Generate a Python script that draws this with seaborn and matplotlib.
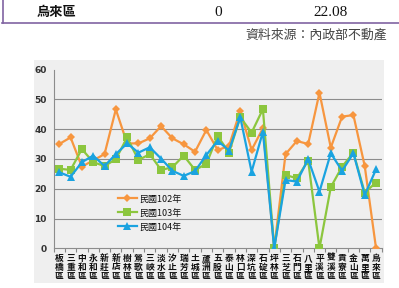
import matplotlib
matplotlib.use("Agg")
import matplotlib.pyplot as plt
from matplotlib.patches import Rectangle
from matplotlib.lines import Line2D
import seaborn as sns
import pandas as pd

districts = ["板橋區", "三重區", "中和區", "永和區", "新莊區", "新店區", "樹林區", "鶯歌區",
             "三峽區", "淡水區", "汐止區", "瑞芳區", "土城區", "蘆洲區", "五股區", "泰山區",
             "林口區", "深坑區", "石碇區", "坪林區", "三芝區", "石門區", "八里區", "平溪區",
             "雙溪區", "貢寮區", "金山區", "萬里區", "烏來區"]
y102 = [35.0, 37.2, 27.4, 29.5, 31.6, 46.6, 35.2, 35.2, 36.9, 41.0, 36.9, 34.9, 32.4, 39.7,
        33.0, 34.3, 46.2, 33.0, 40.3, 0.0, 31.6, 36.0, 35.0, 52.2, 33.8, 44.2, 44.7, 27.6, 0.0]
y103 = [26.7, 26.3, 33.3, 28.9, 27.6, 29.9, 37.2, 29.6, 31.6, 26.3, 27.2, 31.1, 26.3, 28.3,
        37.7, 32.1, 44.0, 38.8, 46.7, 0.0, 24.6, 23.5, 29.4, 0.0, 20.5, 27.4, 32.1, 18.7, 22.08]
y104 = [25.5, 24.0, 28.9, 31.1, 27.6, 31.6, 35.2, 32.1, 33.9, 30.1, 26.0, 24.3, 25.9, 31.3,
        36.1, 32.8, 44.0, 25.7, 39.1, 0.0, 22.9, 22.4, 29.9, 19.0, 31.9, 26.0, 31.9, 17.9, 26.5]
series_names = ["民國102年", "民國103年", "民國104年"]
yticks = [0, 10, 20, 30, 40, 50, 60]

colors = ["#F7963F", "#8CC63E", "#1AA3E0"]
markers = ["D", "s", "^"]
msizes = [4.2, 5.5, 5.5]

CJK = ["Noto Sans CJK TC", "DejaVu Sans"]
plt.rcParams["font.family"] = CJK

W, H = 399, 288
fig = plt.figure(figsize=(W / 100, H / 100), dpi=100)
fig.patch.set_facecolor("white")

# gray chart area
bg = Rectangle((34 / W, 1 - 283 / H), (384 - 34) / W, (283 - 60) / H,
               transform=fig.transFigure, facecolor="#efefef", edgecolor="none")
bg.set_zorder(-10)
fig.patches.append(bg)

# table fragment at top
fig.add_artist(Line2D([2 / W, 1], [1 - 23 / H] * 2, color="#8064A2", lw=1.2))
fig.add_artist(Line2D([2.5 / W] * 2, [1 - 23 / H, 1], color="#8064A2", lw=1.2))
fig.text(57 / W, 1 - 12 / H, "烏來區", ha="center", va="center", fontsize=9.5,
         fontweight="bold", family=CJK, color="#111")
fig.text(218 / W, 1 - 12 / H, "0", ha="center", va="center", fontsize=11,
         family=["Liberation Serif"], color="#111")
fig.text(330 / W, 1 - 12 / H, "22.08", ha="center", va="center", fontsize=11,
         family=["Liberation Serif"], color="#111")
fig.text(245 / W, 1 - 35 / H, "資料來源：內政部不動產", ha="left", va="center",
         fontsize=9.3, family=CJK, color="#444")

left = 53.6 / W
right = 381.7 / W
bottom = 1 - 248.3 / H
top = 1 - 69.5 / H
ax = fig.add_axes([left, bottom, right - left, top - bottom])
ax.set_facecolor("none")
ax.set_zorder(5)

frames = []
for name, vals in zip(series_names, [y102, y103, y104]):
    frames.append(pd.DataFrame({"district": districts, "value": vals, "year": name}))
df = pd.concat(frames, ignore_index=True)

for name, c, m, ms in zip(series_names, colors, markers, msizes):
    sub = df[df["year"] == name]
    sns.lineplot(data=sub, x="district", y="value", ax=ax, color=c, marker=m,
                 markersize=ms, markeredgewidth=0, linewidth=1.6, sort=False,
                 label=name, zorder=3)

ax.set_xlim(-0.5, len(districts) - 0.5)
ax.set_ylim(0, 60)
ax.set_yticks(yticks)
ax.set_yticklabels([str(v) for v in yticks], fontsize=6.5, fontweight="bold",
                   family=["DejaVu Sans"], color="#333")
ax.tick_params(axis="y", length=0, pad=5)
ax.set_xticks(range(len(districts)))
ax.set_xticklabels(["\n".join(d) for d in districts], fontsize=6.3, fontweight="bold",
                   linespacing=1.0, color="#111")
ax.tick_params(axis="x", which="major", length=0, pad=4)
ax.set_xticks([i - 0.5 for i in range(len(districts) + 1)], minor=True)
ax.tick_params(axis="x", which="minor", length=3, color="#888", width=0.8)
ax.set_xlabel("")
ax.set_ylabel("")

for v in yticks[1:-1]:
    ax.axhline(v, color="#8c8c8c", lw=0.8, zorder=1)
for s in ["top", "right"]:
    ax.spines[s].set_visible(False)
ax.spines["left"].set_color("#8c8c8c")
ax.spines["bottom"].set_color("#8c8c8c")
ax.spines["left"].set_linewidth(0.8)
ax.spines["bottom"].set_linewidth(0.8)

leg = ax.legend(loc="center left", bbox_to_anchor=(0.196, 0.197), frameon=False,
                fontsize=6.5, handlelength=2.1, handletextpad=0.3, borderpad=0,
                borderaxespad=0, labelspacing=0.55)
for t in leg.get_texts():
    t.set_color("#111")

fig.savefig("out.png", dpi=100)
